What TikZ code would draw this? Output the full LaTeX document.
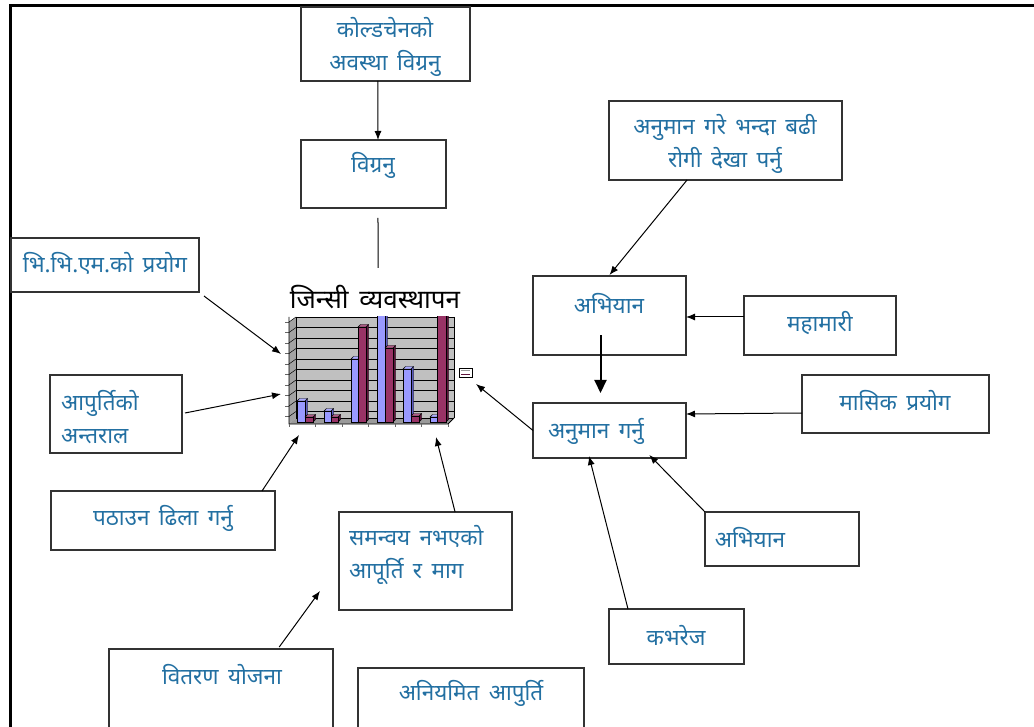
\documentclass[tikz,border=0pt]{standalone}
\usepackage{fontspec}
\newfontfamily\deva[Script=Devanagari,WordSpace=1.6]{Noto Sans}
\usetikzlibrary{arrows.meta,calc}
\definecolor{labelblue}{RGB}{35,112,162}
\definecolor{barblue}{RGB}{153,153,255}
\definecolor{barblueside}{RGB}{90,90,190}
\definecolor{barred}{RGB}{153,51,102}
\definecolor{barredside}{RGB}{95,20,60}
\definecolor{wallgray}{RGB}{192,192,192}
\begin{document}
\begin{tikzpicture}[x=1pt,y=-1pt,
  box/.style={draw=black!80,line width=1.1pt,inner sep=0pt,outer sep=0pt},
  lbl/.style={text=labelblue,font=\deva\fontsize{22.5}{33}\selectfont,inner sep=0pt},
  arr/.style={line width=1pt,-{Latex[length=9pt,width=7pt]}},
  plain/.style={line width=1pt}]
\useasboundingbox (0,0) rectangle (1034,727);
\clip (0,0) rectangle (1034,727);

% page frame
\draw[line width=3pt] (9,6) -- (1040,6);
\draw[line width=3pt] (10,5) -- (10,740);

% boxes
\node[box,minimum width=169pt,minimum height=74pt] (kold) at (385.5,44) {};
\node[box,minimum width=145pt,minimum height=68pt] (bigr) at (373.5,174) {};
\node[box,minimum width=188pt,minimum height=54pt] (bbm) at (105,265) {};
\node[box,minimum width=132pt,minimum height=78pt] (apur) at (116,414) {};
\node[box,minimum width=224pt,minimum height=59pt] (path) at (163,520.5) {};
\node[box,minimum width=173pt,minimum height=98pt] (saman) at (425.5,561) {};
\node[box,minimum width=224pt,minimum height=100pt] (bitar) at (221,699) {};
\node[box,minimum width=226pt,minimum height=100pt] (aniy) at (471,718) {};
\node[box,minimum width=233pt,minimum height=79pt] (anum) at (725.5,140.5) {};
\node[box,minimum width=153pt,minimum height=79pt] (abhA) at (609.5,315.5) {};
\node[box,minimum width=152pt,minimum height=59pt] (maha) at (820,325.5) {};
\node[box,minimum width=153pt,minimum height=55pt] (anug) at (609.5,430.5) {};
\node[box,minimum width=187pt,minimum height=58pt] (masi) at (895.5,404) {};
\node[box,minimum width=154pt,minimum height=54pt] (abhB) at (782,539) {};
\node[box,minimum width=135pt,minimum height=55pt] (kabh) at (676.5,636.5) {};

% labels
\node[lbl,align=center] (koldT) at (385,47) {कोल्डचेनको\\अवस्था विग्रनु};
\node[lbl] (bigrT) at (373,165) {विग्रनु};
\node[lbl] (bbmT) at (105,263) {भि.भि.एम.को प्रयोग};
\node[lbl,align=left,anchor=west] (apurT) at (61,417) {आपुर्तिको\\अन्तराल};
\node[lbl] (pathT) at (163,518) {पठाउन ढिला गर्नु};
\node[lbl,align=left,anchor=west] (samanT) at (349,555) {समन्वय नभएको\\आपूर्ति र माग};
\node[lbl] (bitarT) at (222,675) {वितरण योजना};
\node[lbl] (aniyT) at (471,693) {अनियमित आपुर्ति};
\node[lbl,align=center] (anumT) at (725,144) {अनुमान गरे भन्दा बढी\\रोगी देखा पर्नु};
\node[lbl] (abhAT) at (609,303) {अभियान};
\node[lbl] (mahaT) at (820,323) {महामारी};
\node[lbl] (anugT) at (596,431) {अनुमान गर्नु};
\node[lbl] (masiT) at (895,401) {मासिक प्रयोग};
\node[lbl] (abhBT) at (750,537) {अभियान};
\node[lbl] (kabhT) at (676,636) {कभरेज};

% chart title
\node[font=\deva\fontsize{26}{30}\selectfont,inner sep=0pt] (chartT) at (375,297) {जिन्सी व्यवस्थापन};

% chart: walls and floor
\fill[wallgray] (296,317) rectangle (454,418);
\fill[wallgray!85!black] (289,322) -- (296,317) -- (296,418) -- (289,424) -- cycle;
\fill[wallgray!80!black] (289,424) -- (296,418) -- (454,418) -- (448,424) -- cycle;
\foreach \y in {317,327.5,338,348.5,359,369.5,380,390.5,401,411.5} {
  \draw[line width=0.7pt] (296,\y) -- (454,\y);
  \draw[line width=0.5pt] (296,\y) -- (289,\y+5);
  \draw[line width=0.4pt,black!60] (285,\y+5) -- (289,\y+5);
}
\draw[line width=0.6pt] (296,317) -- (296,418) -- (454,418);
\draw[line width=0.6pt] (454,317) -- (454,418);
\draw[line width=0.8pt] (289,317) -- (289,424) -- (448,424) -- (454,418);
\foreach \x in {289,315,342,368,395,421,448} {
  \draw[line width=0.4pt,black!60] (\x,424) -- (\x,427);
}
% chart: bars (left x, right x, top y, colour pair)
\begin{scope}
\clip (280,317) rectangle (470,430);
\foreach \xa/\xb/\top/\fc/\sc in {
  297/305/401/barblue/barblueside, 305/313/417/barred/barredside,
  324/331/411/barblue/barblueside, 331/338/417/barred/barredside,
  351/358/359/barblue/barblueside, 358/366/327/barred/barredside,
  377/385/312/barblue/barblueside, 385/393/348/barred/barredside,
  403/411/369/barblue/barblueside, 411/419/416/barred/barredside,
  430/437/417/barblue/barblueside, 437/446/312/barred/barredside} {
  \filldraw[fill=\sc,draw=black,line width=0.4pt] (\xb,\top) -- (\xb+2.5,\top-2.5) -- (\xb+2.5,419.5) -- (\xb,422) -- cycle;
  \filldraw[fill=\fc!80!white,draw=black,line width=0.4pt] (\xa,\top) -- (\xa+2.5,\top-2.5) -- (\xb+2.5,\top-2.5) -- (\xb,\top) -- cycle;
  \filldraw[fill=\fc,draw=black,line width=0.4pt] (\xa,\top) rectangle (\xb,422);
}
\end{scope}
% chart: legend
\filldraw[fill=white,draw=black,line width=0.5pt] (459,368) rectangle (472,377);
\draw[line width=1pt,black!40] (461,371) -- (470,371);
\draw[line width=1pt,barredside] (461,374.5) -- (470,374.5);

% arrow targets around the chart
\coordinate (cBbm) at (281,354);
\coordinate (cApur) at (281,394);
\coordinate (cPath) at (299,435);
\coordinate (cSaman) at (436,437);
\coordinate (cAnug) at (476,384);
\coordinate (cBitar) at (320,591);
\coordinate (tStem) at (378,268);

% connectors
\draw[arr] ($(kold.south west)!0.455!(kold.south east)$) -- ($(bigr.north west)!0.531!(bigr.north east)$);
\draw[plain] ($(bigr.south west)!0.531!(bigr.south east)+(0,10)$) -- (tStem);
\draw[arr] ($(bbm.south east)+(5,4)$) -- (cBbm);
\draw[arr] ($(apur.east)+(3,-1)$) -- (cApur);
\draw[arr] ($(path.north east)+(-13,0)$) -- (cPath);
\draw[arr] ($(saman.north west)!0.671!(saman.north east)$) -- (cSaman);
\draw[arr] ($(bitar.north west)!0.76!(bitar.north east)+(0,-2)$) -- (cBitar);
\draw[arr] ($(anum.south west)!0.335!(anum.south east)$) -- ($(abhA.north west)!0.5!(abhA.north east)+(0,-1)$);
\draw[arr] ($(maha.west)+(0,-8.5)$) -- ($(abhA.east)+(0,1.5)$);
\draw[line width=2pt,-{Triangle[length=13pt,width=12pt]}] ($(abhA.center)+(-9,20)$) -- ($(anug.north)+(-9,-10)$);
\draw[arr] ($(masi.west)+(0,9)$) -- ($(anug.east)+(0,-16.5)$);
\draw[arr] (abhB.north west) -- ($(anug.south west)!0.76!(anug.south east)+(0,-3)$);
\draw[arr] ($(kabh.north west)+(19,0)$) -- ($(anug.south west)!0.366!(anug.south east)+(0,-2)$);
\draw[arr] (anug.west) -- (cAnug);
\end{tikzpicture}
\end{document}
